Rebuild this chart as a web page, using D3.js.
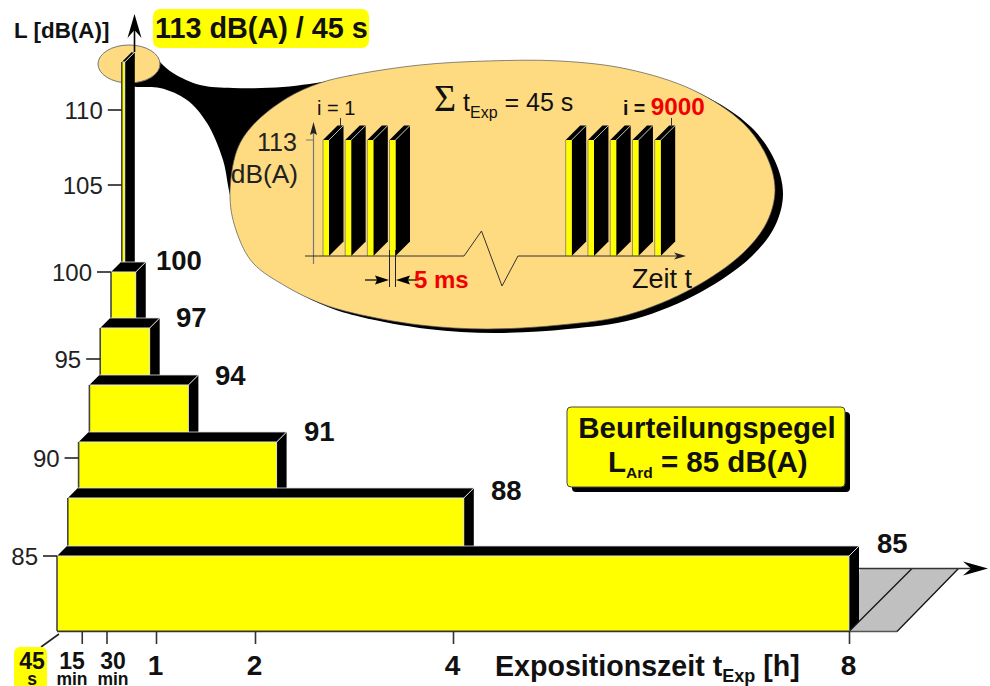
<!DOCTYPE html>
<html><head><meta charset="utf-8">
<script src="https://cdn.jsdelivr.net/npm/d3@7"></script>
<style>html,body{margin:0;padding:0;background:#fff}svg{display:block}text{font-family:"Liberation Sans",Arial,sans-serif}</style>
</head><body><svg id="c" width="990" height="686"></svg>
<script>
// ---- data
const levels = [85, 88, 91, 94, 97, 100, 113];            // dB(A)
const hours  = [8, 4, 2, 1, 0.5, 0.25, 0.03];             // exposure drawn for each level (45 s bar is widened to stay visible)
const levelLabels = ["85", "88", "91", "94", "97", "100"];
const yTicks = [85, 90, 95, 100, 105, 110];
const xTicks = [0.25, 0.5, 1, 2, 4, 8];
const xTickLabels = ["15", "30", "1", "2", "4", "8"];
const xTickUnits = ["min", "min", "", "", "", ""];
const pulsesFirst = [0, 1, 2, 3];
const pulsesLast = [0, 1, 2, 3, 4];
const pulseLevel = 113;

// ---- scales
const yDomain = [85, 88, 90, 91, 94, 95, 97, 100, 105, 110, 113];
const yRange  = [556, 498, 458, 442, 385, 359, 328, 272, 185, 110, 62];
const y = d3.scaleLinear().domain(yDomain).range(yRange);
const x = d3.scaleLinear().domain([0, 8]).range([57, 849]);
const step = d3.scaleLinear().domain([0, 6]).range([0, 64.8]);
const yP = d3.scaleLinear().domain([0, pulseLevel]).range([256, 140]);
const xPA = d3.scaleLinear().domain([0, 3]).range([323, 389.5]);
const xPB = d3.scaleLinear().domain([0, 4]).range([565.7, 654.7]);

const YEL = "#ffff00", TAN = "#fedb80", DK = "#333";
const svg = d3.select("#c");
const poly = (g, pts, fill, stroke, sw) => g.append("polygon").attr("points", pts.map(p => p.join(",")).join(" "))
  .attr("fill", fill).attr("stroke", stroke || "none").attr("stroke-width", sw || 0).attr("stroke-linejoin", "round");
const seg = (g, a, b, c, w) => g.append("line").attr("x1", a[0]).attr("y1", a[1]).attr("x2", b[0]).attr("y2", b[1]).attr("stroke", c || DK).attr("stroke-width", w || 1.5);
function label(g, xp, yp, parts, opt = {}) {
  const t = g.append("text").attr("x", xp).attr("y", yp).attr("font-size", opt.size || 22)
    .attr("font-weight", opt.bold ? "700" : "400").attr("fill", opt.fill || "#111").attr("text-anchor", opt.anchor || "start");
  (Array.isArray(parts) ? parts : [parts]).forEach(p => {
    if (typeof p === "string") { t.append("tspan").text(p); return; }
    const s = t.append("tspan").text(p.t).attr("fill", p.fill || null);
    if (p.size) s.attr("font-size", p.size);
    if (p.dy) s.attr("dy", p.dy);
    if (p.ls) s.attr("letter-spacing", p.ls);
    if (p.dx) s.attr("dx", p.dx);
  });
  return t;
}
function arrow(g, tipX, tipY, dir, len, half, notch, fill) {
  let pts;
  if (dir === "up") pts = [[tipX, tipY], [tipX + half, tipY + len], [tipX, tipY + len - notch], [tipX - half, tipY + len]];
  if (dir === "right") pts = [[tipX, tipY], [tipX - len, tipY - half], [tipX - len + notch, tipY], [tipX - len, tipY + half]];
  if (dir === "left") pts = [[tipX, tipY], [tipX + len, tipY - half], [tipX + len - notch, tipY], [tipX + len, tipY + half]];
  poly(g, pts, fill || "#000");
}

// ---- callout: connector, blob, shadow
const smooth = d3.line().curve(d3.curveCatmullRom.alpha(0.5));
const closed = d3.line().curve(d3.curveCatmullRomClosed.alpha(0.5));
const blobPts = [[230,198],[237,150],[253,125],[287,98],[320,83],[353,75],[420,65],[487,61],[560,61],[627,69],[693,90],[743,123],[767,157],[775,190],[767,222],[743,253],[693,288],[627,315],[560,325],[487,329],[420,325],[353,313],[320,303],[287,287],[253,263],[237,233]];
const upper = smooth([[150,50],[160,62],[173,73],[200,85],[233,88],[283,87],[333,80],[352,75]]);
const lower = smooth([[240,215],[231,198],[223,160],[207,123],[187,100],[160,88],[137,87],[125,86]]);
svg.append("path").attr("d", upper + "L" + "300,150L" + lower.slice(1) + "Z").attr("fill", "#000");
const blobD = closed(blobPts);
svg.append("path").attr("d", blobD).attr("transform", "translate(8,4)").attr("fill", "#000");
svg.append("path").attr("d", blobD).attr("fill", TAN).attr("stroke", "#555").attr("stroke-width", 0.7);
svg.append("ellipse").attr("cx", 129).attr("cy", 64).attr("rx", 31).attr("ry", 19).attr("fill", TAN).attr("stroke", "#777").attr("stroke-width", 1);

// ---- gray area beyond 8 h, time axis arrow
const g0 = svg.append("g");
poly(g0, [[849, 631], [897, 631], [958.5, 568.5], [860, 568.5]], "#c0c0c0");
seg(g0, [849, 631.5], [897, 631.5], "#555", 1.5);
seg(g0, [897, 631.5], [958.5, 568.5], "#111", 1.3);
seg(g0, [849, 631.5], [912, 568.5], "#111", 1.3);
seg(g0, [859, 568.5], [975, 568.5], "#333", 1.6);
arrow(g0, 988, 568.5, "right", 25, 7, 8);

// ---- stepped 3-D bars (drawn from the tallest down)
const depth = 10;
const bars = svg.append("g");
d3.range(levels.length - 1, -1, -1).forEach(i => {
  const x0 = x(0) + step(i);
  const w = Math.max(x(hours[i]) - x(0), 3);
  const x1 = x0 + w;
  const yt = y(levels[i]);
  const yb = i === 0 ? 631 : y(levels[i - 1]) - depth;
  poly(bars, [[x1, yt], [x1 + depth, yt - depth], [x1 + depth, i === 0 ? yb - depth : yb], [x1, yb]], "#000");
  poly(bars, [[x0, yt], [x0 + depth, yt - depth], [x1 + depth, yt - depth], [x1, yt]], "#000");
  bars.append("rect").attr("x", x0).attr("y", yt).attr("width", w).attr("height", yb - yt).attr("fill", YEL);
  seg(bars, [x0, yt], [x1, yt], "#e6e6e6", 1);
  seg(bars, [x1, yt], [x1 + depth, yt - depth], "#e6e6e6", 1);
  seg(bars, [x1, yt], [x1, yb], "#ddd", 0.8);
  seg(bars, [x0, yt], [x0, yb], "#444", 1.6);
  seg(bars, [x0 + depth, yt - depth], [x1 + depth, yt - depth], "#ddd", 0.8);
  seg(bars, [x0, yb + .4], [x1, yb + .4], i === 0 ? "#333" : "#ddd", i === 0 ? 1.6 : 1);
});

// ---- y axis
const gy = svg.append("g");
const tickEnd = v => {
  let idx = d3.bisectRight(levels, v) - 1;
  if (v > 100) idx = 6;
  return x(0) + step(idx);
};
seg(gy, [134.5, 52], [134.5, 30], "#000", 1.6);
arrow(gy, 134.5, 14, "up", 24, 7, 8);
yTicks.forEach(v => {
  const e = v === 90 ? tickEnd(91) : v === 95 ? tickEnd(97) : tickEnd(v);
  seg(gy, [e - 14, y(v)], [e, y(v)], "#222", 1.6);
  label(gy, e - 19, y(v) + 9, String(v), { size: 24, anchor: "end", fill: "#222" });
});
label(gy, 14, 38, "L [dB(A)]", { size: 22.4, bold: true });

// ---- x axis
const gx = svg.append("g").attr("transform", "translate(0,632)")
  .call(d3.axisBottom(x).tickValues(xTicks).tickSize(12).tickFormat(""));
gx.select(".domain").remove();
gx.selectAll(".tick line").attr("stroke", "#333").attr("stroke-width", 1.6);
seg(svg, [59, 634], [41, 647], "#222", 1.6);
xTicks.forEach((h, i) => {
  if (xTickUnits[i]) {
    const cx = h === 0.25 ? 72 : 113;
    label(svg, cx, 669, xTickLabels[i], { size: 23, bold: true, anchor: "middle" });
    label(svg, cx, 684.5, xTickUnits[i], { size: 17.5, bold: true, anchor: "middle" });
  } else {
    label(svg, x(h) - 0.5, 675, xTickLabels[i], { size: 28, bold: true, anchor: "middle" });
  }
});
svg.append("rect").attr("x", 14).attr("y", 647).attr("width", 33).attr("height", 45).attr("rx", 6).attr("fill", YEL);
label(svg, 32, 669, "45", { size: 23, bold: true, anchor: "middle" });
label(svg, 32, 684.5, "s", { size: 17.5, bold: true, anchor: "middle" });
label(svg, 495, 676, ["Expositionszeit t", { t: "Exp", size: 18, dy: 6 }, { t: " [h]", dy: -6 }], { size: 28.6, bold: true });

// ---- level labels
const labelPos = [[877, 553], [491, 500], [304, 441], [215, 385], [176, 327], [156, 270]];
levelLabels.forEach((s, i) => label(svg, labelPos[i][0], labelPos[i][1], s, { size: 27.5, bold: true }));

// ---- headline
svg.append("rect").attr("x", 153).attr("y", 9).attr("width", 216).attr("height", 39).attr("rx", 7).attr("fill", YEL);
label(svg, 155, 38, "113 dB(A) / 45 s", { size: 28.8, bold: true });

// ---- rating level box
svg.append("rect").attr("x", 572).attr("y", 412).attr("width", 278).attr("height", 80).attr("rx", 4).attr("fill", "#000");
svg.append("rect").attr("x", 567).attr("y", 407).attr("width", 278).attr("height", 80).attr("rx", 4).attr("fill", YEL).attr("stroke", "#444").attr("stroke-width", 1);
label(svg, 707, 438, "Beurteilungspegel", { size: 29.5, bold: true, anchor: "middle" });
label(svg, 608, 472, ["L", { t: "Ard", size: 15.5, dy: 6 }, { t: " = 85 dB(A)", dy: -6 }], { size: 29.5, bold: true });

// ---- inside the callout
const ins = svg.append("g");
const pd = 14.5, pw = 6;
const drawPulse = px => {
  const t = yP(pulseLevel), b = yP(0);
  poly(ins, [[px + pw, t], [px + pw + pd, t - pd], [px + pw + pd, b - pd], [px + pw, b]], "#000");
  poly(ins, [[px, t], [px + pd, t - pd], [px + pw + pd, t - pd], [px + pw, t]], "#000");
  seg(ins, [px + pw, t], [px + pw + pd, t - pd], "#ddd", 0.8);
  ins.append("rect").attr("x", px).attr("y", t).attr("width", pw).attr("height", b - t).attr("fill", YEL);
  seg(ins, [px, t], [px, b], "#777", 0.8);
};
seg(ins, [313.5, 264], [313.5, 130], "#777", 1.2);
arrow(ins, 313.5, 122, "up", 13, 3.5, 2, "#222");
seg(ins, [306, yP(pulseLevel)], [313.5, yP(pulseLevel)], "#777", 1);
pulsesFirst.forEach(i => drawPulse(xPA(i)));
pulsesLast.forEach(i => drawPulse(xPB(i)));
ins.append("path").attr("d", d3.line()([[305, 256], [464, 256], [481.5, 231], [502, 286], [518, 256], [678, 256]])).attr("fill", "none").attr("stroke", "#333").attr("stroke-width", 1);
arrow(ins, 686, 256, "right", 12, 3.5, 3, "#222");
seg(ins, [340.5, 118], [340.5, 127], "#333", 1);
seg(ins, [671.5, 118], [671.5, 127], "#333", 1);
seg(ins, [389.5, 250], [389.5, 287], "#222", 1);
seg(ins, [395.5, 250], [395.5, 287], "#222", 1);
seg(ins, [365, 280], [380, 280], "#000", 1.2);
arrow(ins, 389, 280, "right", 14, 4.5, 2);
seg(ins, [405, 280], [416, 280], "#000", 1.2);
arrow(ins, 396, 280, "left", 14, 4.5, 2);

label(ins, 414, 288, "5 ms", { size: 24, bold: true, fill: "#f00000" });
label(ins, 632, 288, "Zeit t", { size: 27, fill: "#111" });
label(ins, 317, 115, "i = 1", { size: 20, fill: "#111" });
label(ins, 623, 115, ["i = ", { t: "9000", fill: "#f00000", size: 24.3 }], { size: 19.5, bold: true });
label(ins, 257, 151, "113", { size: 25, fill: "#222" });
label(ins, 298, 183, "dB(A)", { size: 26.3, fill: "#222", anchor: "end" });
ins.append("text").attr("x", 434).attr("y", 111).attr("font-size", 38).attr("fill", "#111").style("font-family", "'Liberation Serif','DejaVu Serif',serif").text("Σ");
label(ins, 463, 111, ["t", { t: "Exp", size: 16, dy: 7 }, { t: " = 45 s", dy: -7 }], { size: 25 });
</script></body></html>
